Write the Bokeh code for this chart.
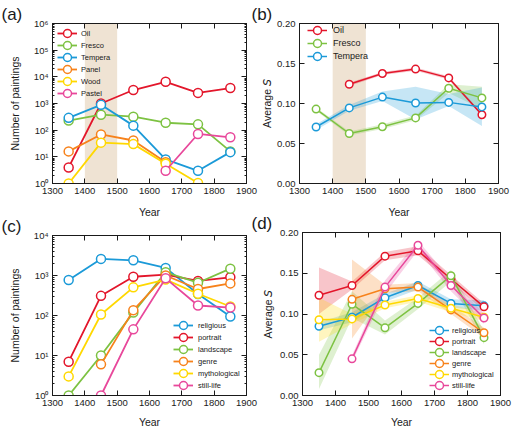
import numpy as np
from bokeh.plotting import figure
from bokeh.models import (Range1d, FixedTicker, LinearAxis, LogAxis, Legend,
                          LegendItem, BoxAnnotation, PrintfTickFormatter)
from bokeh.layouts import column, row
from bokeh.embed import file_html
from bokeh.resources import INLINE

nan = float("nan")
FONT = "Liberation Sans"
INK = "#1a1a1a"

# ---------------------------------------------------------------- data
years = [1350, 1450, 1550, 1650, 1750, 1850]
year_ticks = [1300, 1400, 1500, 1600, 1700, 1800, 1900]

# (a) number of paintings per medium
oil_n = [4, 1000, 3200, 6500, 2500, 3800]
fresco_n = [230, 380, 320, 190, 165, 16]
tempera_n = [290, 890, 148, 8, 3, 15]
panel_n = [16, 69, 41, 6.3, nan, nan]
wood_n = [1, 34, 30, 5.5, 1.05, nan]
pastel_n = [nan, nan, nan, 3, 72, 54]

# (b) average S per medium, with band limits
oil_s = [nan, 0.124, 0.1375, 0.143, 0.132, 0.086]
oil_lo = [nan, 0.122, 0.1355, 0.141, 0.130, 0.084]
oil_hi = [nan, 0.126, 0.1395, 0.145, 0.134, 0.088]
fresco_s = [0.093, 0.0625, 0.071, 0.082, 0.119, 0.107]
fresco_lo = [0.091, 0.060, 0.068, 0.079, 0.113, 0.093]
fresco_hi = [0.095, 0.065, 0.074, 0.085, 0.124, 0.121]
tempera_s = [0.0706, 0.0945, 0.108, 0.1006, 0.1014, 0.0957]
tempera_lo = [0.067, 0.091, 0.103, 0.080, 0.097, 0.072]
tempera_hi = [0.074, 0.098, 0.115, 0.121, 0.112, 0.120]

# (c) number of paintings per genre
religious_n = [770, 2600, 2400, 1550, 345, 94]
portrait_n = [7, 310, 930, 1050, 730, 900]
landscape_n = [1, 10, 118, 1200, 660, 1480]
genre_n = [nan, 6, 136, 1000, 460, 635]
mythological_n = [3, 106, 505, 790, 350, 168]
still_life_n = [nan, 1, 45, 850, 178, 158]

# (d) average S per genre, with band limits
religious_s = [0.085, 0.096, 0.120, 0.135, 0.113, 0.110]
religious_lo = [0.080, 0.090, 0.115, 0.130, 0.108, 0.104]
religious_hi = [0.090, 0.102, 0.125, 0.140, 0.118, 0.117]
portrait_s = [0.123, 0.135, 0.171, 0.1775, 0.143, 0.1088]
portrait_lo = [0.100, 0.130, 0.166, 0.172, 0.138, 0.104]
portrait_hi = [0.157, 0.140, 0.176, 0.183, 0.148, 0.113]
landscape_s = [0.028, 0.112, 0.083, 0.113, 0.147, 0.071]
landscape_lo = [0.008, 0.095, 0.075, 0.106, 0.140, 0.063]
landscape_hi = [0.050, 0.128, 0.092, 0.120, 0.154, 0.079]
genre_s = [nan, 0.118, 0.131, 0.133, 0.105, 0.077]
genre_lo = [nan, 0.070, 0.126, 0.128, 0.100, 0.071]
genre_hi = [nan, 0.167, 0.136, 0.138, 0.111, 0.083]
mythological_s = [0.093, 0.094, 0.111, 0.119, 0.107, 0.096]
mythological_lo = [0.066, 0.088, 0.107, 0.115, 0.102, 0.091]
mythological_hi = [0.120, 0.100, 0.115, 0.123, 0.112, 0.101]
still_life_s = [nan, 0.045, 0.133, 0.1843, 0.135, 0.095]
still_life_lo = [nan, 0.041, 0.125, 0.178, 0.128, 0.088]
still_life_hi = [nan, 0.049, 0.141, 0.190, 0.142, 0.101]

RED, GREEN, BLUE = "#e3162b", "#7dc242", "#1b9ad8"
ORANGE, YELLOW, PINK = "#f7821b", "#ffd800", "#e8489b"
SHADE = "#efe3d3"

sup = str.maketrans("0123456789", "⁰¹²³⁴⁵⁶⁷⁸⁹")
AVG_S = "Average \U0001D61A"   # sans-serif italic S


def make_fig(width, height, left, right, top, bottom, tag, ylabel,
             ylabel_standoff, xlabel_standoff, margin=(0, 0, 0, 0),
             decades=None):
    kw = dict(width=width, height=height, output_backend="svg",
              toolbar_location=None, x_range=Range1d(1300, 1900),
              min_border_left=left, min_border_right=right,
              min_border_top=top, min_border_bottom=bottom, margin=margin)
    if decades:
        kw["y_axis_type"] = "log"
        kw["y_range"] = Range1d(1, 10 ** decades)
    else:
        kw["y_range"] = Range1d(0, 0.2)
    p = figure(**kw)
    p.grid.visible = False
    p.outline_line_color = INK
    p.background_fill_color = "white"
    p.border_fill_color = None   # panels overlap slightly; keep margins clear

    # panel tag as a left-aligned title pulled out over the left margin
    p.title.text = tag
    p.title.align = "left"
    p.title.offset = 1 - left
    p.title.standoff = 0
    p.title.text_font = FONT
    p.title.text_font_size = "17px"
    p.title.text_font_style = "normal"
    p.title.text_color = INK

    xt = FixedTicker(ticks=year_ticks, minor_ticks=[])
    if decades:
        majors = [10 ** k for k in range(decades + 1)]
        minors = [m * 10 ** k for k in range(decades) for m in range(2, 10)]
        yt = FixedTicker(ticks=majors, minor_ticks=minors)
        over = {v: "10" + str(k).translate(sup) for k, v in enumerate(majors)}
        p.add_layout(LogAxis(), "right")
    else:
        yt = FixedTicker(ticks=[0, 0.05, 0.10, 0.15, 0.20], minor_ticks=[])
        over = None
        p.add_layout(LinearAxis(), "right")
    p.add_layout(LinearAxis(), "above")

    for ax in p.xaxis:
        ax.ticker = xt
    for ax in p.yaxis:
        ax.ticker = yt
        if over:
            ax.major_label_overrides = over
        else:
            ax.formatter = PrintfTickFormatter(format="%.2f")
    for ax in p.axis:
        ax.major_tick_in = 5
        ax.major_tick_out = 0
        ax.minor_tick_in = 2
        ax.minor_tick_out = 0
        ax.axis_line_color = INK
        ax.major_tick_line_color = INK
        ax.minor_tick_line_color = INK
        ax.major_label_text_font = FONT
        ax.major_label_text_font_size = "9.5px"
        ax.major_label_text_color = INK
        ax.major_label_standoff = 4
        ax.axis_label_text_font = FONT
        ax.axis_label_text_font_size = "10.5px"
        ax.axis_label_text_font_style = "normal"
        ax.axis_label_text_color = INK
    # mirrored top/right axes carry ticks only
    for ax in p.right + p.above:
        ax.major_label_text_font_size = "0px"
        ax.major_label_text_color = None
        ax.major_label_standoff = 0
    p.below[0].axis_label = "Year"
    p.below[0].axis_label_standoff = xlabel_standoff
    p.left[0].axis_label = ylabel
    p.left[0].axis_label_standoff = ylabel_standoff
    return p


def series(p, y, color, size, lw):
    x = np.array(years, dtype=float)
    y = np.array(y, dtype=float)
    ln = p.line(x, y, line_color=color, line_width=lw)
    sc = p.scatter(x, y, marker="circle", size=size, fill_color="white",
                   line_color=color, line_width=1.5)
    return [ln, sc]


def band(p, lo, hi, color):
    x = np.array(years, dtype=float)
    lo = np.array(lo, dtype=float)
    hi = np.array(hi, dtype=float)
    ok = ~np.isnan(lo)
    p.varea(x=x[ok], y1=lo[ok], y2=hi[ok], fill_color=color, fill_alpha=0.25)


def add_legend(p, entries, top_center, pitch, x, font, standoff):
    """Entries are interleaved over two legends so that rows can sit closer
    than the glyph box height."""
    fh = p.height - p.min_border_top - p.min_border_bottom
    spacing = 2 * pitch - 20
    for start in (0, 1):
        sub = entries[start::2]
        if not sub:
            continue
        items = [LegendItem(label=lab, renderers=rs) for lab, rs in sub]
        h = len(sub) * 20 + (len(sub) - 1) * spacing
        first = top_center + start * pitch      # px below frame top
        vy = fh - (first - 10) - h
        lg = Legend(items=items, location=(x, vy), glyph_width=20,
                    glyph_height=20, label_height=20, spacing=spacing,
                    padding=0, margin=0, label_standoff=standoff,
                    label_text_font=FONT, label_text_font_size=font,
                    label_text_color=INK, border_line_color=None,
                    background_fill_alpha=0)
        p.add_layout(lg)


# ---------------------------------------------------------------- (a)
pa = make_fig(263, 222, 52, 17, 23, 39, "(a)", "Number of paintings", 10, 9,
              decades=6)
pa.add_layout(BoxAnnotation(left=1400, right=1500, fill_color=SHADE,
                            fill_alpha=1, line_color=None, level="underlay"))
ents = []
for lab, vals, col in [("Oil", oil_n, RED), ("Fresco", fresco_n, GREEN),
                       ("Tempera", tempera_n, BLUE), ("Panel", panel_n, ORANGE),
                       ("Wood", wood_n, YELLOW), ("Pastel", pastel_n, PINK)]:
    ents.append((lab, series(pa, vals, col, 9, 1.8)))
add_legend(pa, ents, 10, 12, 5, "7.5px", 4)

# ---------------------------------------------------------------- (b)
pb = make_fig(276, 222, 49, 28, 22, 36, "(b)", AVG_S, 1, 9,
              margin=(0, 0, 0, -13))
pb.add_layout(BoxAnnotation(left=1400, right=1500, fill_color=SHADE,
                            fill_alpha=1, line_color=None, level="underlay"))
band(pb, oil_lo, oil_hi, RED)
band(pb, fresco_lo, fresco_hi, GREEN)
band(pb, tempera_lo, tempera_hi, BLUE)
ents = [("Oil", series(pb, oil_s, RED, 7.5, 1.5)),
        ("Fresco", series(pb, fresco_s, GREEN, 7.5, 1.5)),
        ("Tempera", series(pb, tempera_s, BLUE, 7.5, 1.5))]
add_legend(pb, ents, 11, 13, 8, "9px", 6)

# ---------------------------------------------------------------- (c)
pc = make_fig(263, 231, 52, 17, 23, 48, "(c)", "Number of paintings", 10, 7,
              margin=(-10, 0, 0, 0), decades=4)
ents = []
for lab, vals, col in [("religious", religious_n, BLUE),
                       ("portrait", portrait_n, RED),
                       ("landscape", landscape_n, GREEN),
                       ("genre", genre_n, ORANGE),
                       ("mythological", mythological_n, YELLOW),
                       ("still-life", still_life_n, PINK)]:
    ents.append((lab, series(pc, vals, col, 9, 1.8)))
add_legend(pc, ents, 90, 12, 121, "7.5px", 5)

# ---------------------------------------------------------------- (d)
pd = make_fig(276, 234, 52, 26, 23, 45, "(d)", AVG_S, 3, 7,
              margin=(-13, 0, 0, -13))
genres_d = [("religious", religious_s, religious_lo, religious_hi, BLUE),
            ("portrait", portrait_s, portrait_lo, portrait_hi, RED),
            ("landscape", landscape_s, landscape_lo, landscape_hi, GREEN),
            ("genre", genre_s, genre_lo, genre_hi, ORANGE),
            ("mythological", mythological_s, mythological_lo, mythological_hi, YELLOW),
            ("still-life", still_life_s, still_life_lo, still_life_hi, PINK)]
for lab, vals, lo, hi, col in genres_d:
    band(pd, lo, hi, col)
ents = [(lab, series(pd, vals, col, 7.5, 1.5)) for lab, vals, lo, hi, col in genres_d]
add_legend(pd, ents, 101, 11, 127, "7.5px", 3)

layout = column(row(pa, pb), row(pc, pd))
open("out.html", "w").write(file_html(layout, INLINE))
